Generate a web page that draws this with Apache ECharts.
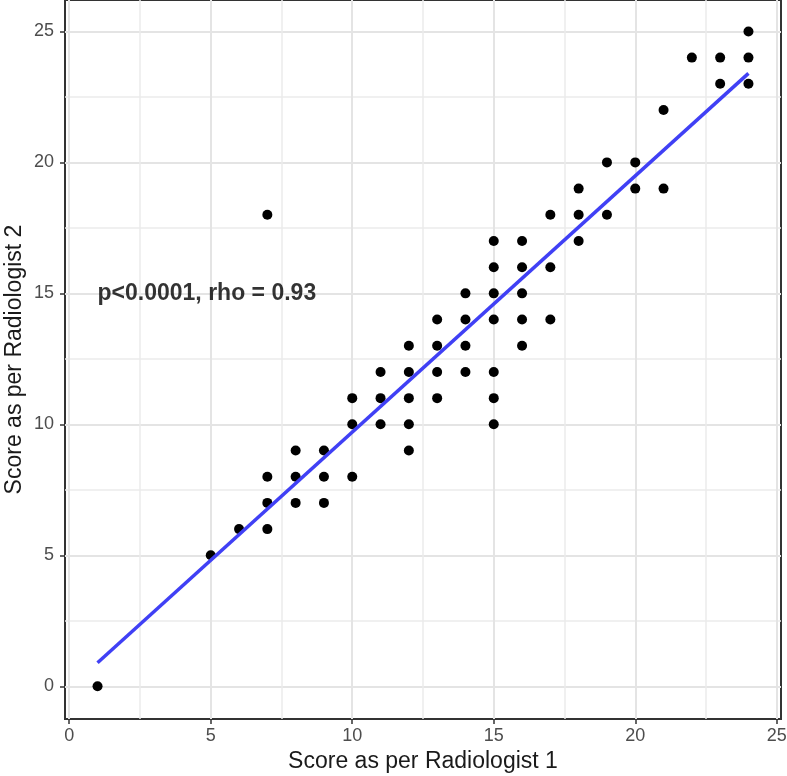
<!DOCTYPE html>
<html>
<head>
<meta charset="utf-8">
<script src="https://cdn.jsdelivr.net/npm/echarts@6/dist/echarts.min.js"></script>
<style>
html, body { margin: 0; padding: 0; background: #fff; }
#chart { width: 787px; height: 776px; }
</style>
</head>
<body>
<div id="chart"></div>
<script>
// scores per case: radiologist 1 (x) and radiologist 2 (y)
var rad1 = [1, 5, 6, 7, 7, 7, 7, 8, 8, 8, 9, 9, 9, 10, 10, 10, 11, 11, 11,
    12, 12, 12, 12, 12, 13, 13, 13, 13, 14, 14, 14, 14,
    15, 15, 15, 15, 15, 15, 15, 16, 16, 16, 16, 16, 17, 17, 17,
    18, 18, 18, 19, 19, 20, 20, 21, 21, 22, 23, 23, 24, 24, 24];
var rad2 = [0, 5, 6, 6, 7, 8, 18, 7, 8, 9, 7, 8, 9, 8, 10, 11, 10, 11, 12,
    9, 10, 11, 12, 13, 11, 12, 13, 14, 12, 13, 14, 15,
    10, 11, 12, 14, 15, 16, 17, 13, 14, 15, 16, 17, 14, 16, 18,
    17, 18, 19, 18, 20, 19, 20, 19, 22, 24, 23, 24, 23, 24, 25];
// fitted line ends
var fitX = [1, 24];
var fitY = [0.9, 23.4];
var xTicks = [0, 5, 10, 15, 20, 25];
var yTicks = [0, 5, 10, 15, 20, 25];
var xMinor = [2.5, 7.5, 12.5, 17.5, 22.5];
var yMinor = [2.5, 7.5, 12.5, 17.5, 22.5];
var annotText = 'p<0.0001, rho = 0.93';
var annotX = 1;
var annotY = 15;

var font = '"Liberation Sans", Arial, sans-serif';
var xRange = [-0.15, 25.15];
var yRange = [-1.25, 26.2];

var points = rad1.map(function (v, i) { return [v, rad2[i]]; });
var fitLine = fitX.map(function (v, i) { return [v, fitY[i]]; });

var chart = echarts.init(document.getElementById('chart'));

function mainAxis(range, ticks, name, gap, margin, moveName) {
    return {
        type: 'value',
        min: range[0],
        max: range[1],
        splitNumber: 5,
        name: name,
        nameLocation: 'middle',
        nameGap: gap,
        nameMoveOverlap: moveName,
        nameTextStyle: { fontSize: 23, color: '#1a1a1a', fontFamily: font },
        axisLine: { show: false, onZero: false },
        axisTick: {
            customValues: ticks,
            length: 5,
            lineStyle: { color: '#333', width: 1.5 }
        },
        axisLabel: {
            customValues: ticks,
            fontSize: 18,
            color: '#4d4d4d',
            fontFamily: font,
            margin: margin
        },
        splitLine: { show: true, lineStyle: { color: '#e4e4e4', width: 2 } }
    };
}
// second axis only carries the minor grid lines
function minorAxis(range, ticks, pos) {
    return {
        type: 'value',
        min: range[0],
        max: range[1],
        position: pos,
        axisLine: { show: false, onZero: false },
        axisTick: { show: false, customValues: ticks },
        axisLabel: { show: false },
        splitLine: { show: true, lineStyle: { color: '#ebebeb', width: 1.5 } }
    };
}

chart.setOption({
    animation: false,
    grid: {
        left: 65, right: 6, top: 0, bottom: 57,
        outerBoundsMode: 'none',
        containLabel: false,
        show: true, borderColor: '#333', borderWidth: 2
    },
    xAxis: [
        mainAxis(xRange, xTicks, 'Score as per Radiologist 1', 31, 8, true),
        minorAxis(xRange, xMinor, 'bottom')
    ],
    yAxis: [
        mainAxis(yRange, yTicks, 'Score as per Radiologist 2', 39, 11, false),
        minorAxis(yRange, yMinor, 'left')
    ],
    series: [
        {
            type: 'scatter',
            data: points,
            symbol: 'circle',
            symbolSize: 10,
            itemStyle: { color: '#000', opacity: 1 },
            z: 3
        },
        {
            type: 'line',
            data: fitLine,
            symbol: 'none',
            lineStyle: { color: '#4040f5', width: 3.5 },
            z: 4
        },
        {
            type: 'scatter',
            data: [[annotX, annotY]],
            symbolSize: 0,
            label: {
                show: true,
                position: 'right',
                distance: 0,
                formatter: annotText,
                fontSize: 23,
                fontWeight: 'bold',
                color: '#000',
                fontFamily: font
            },
            z: 5
        }
    ]
});
</script>
</body>
</html>
